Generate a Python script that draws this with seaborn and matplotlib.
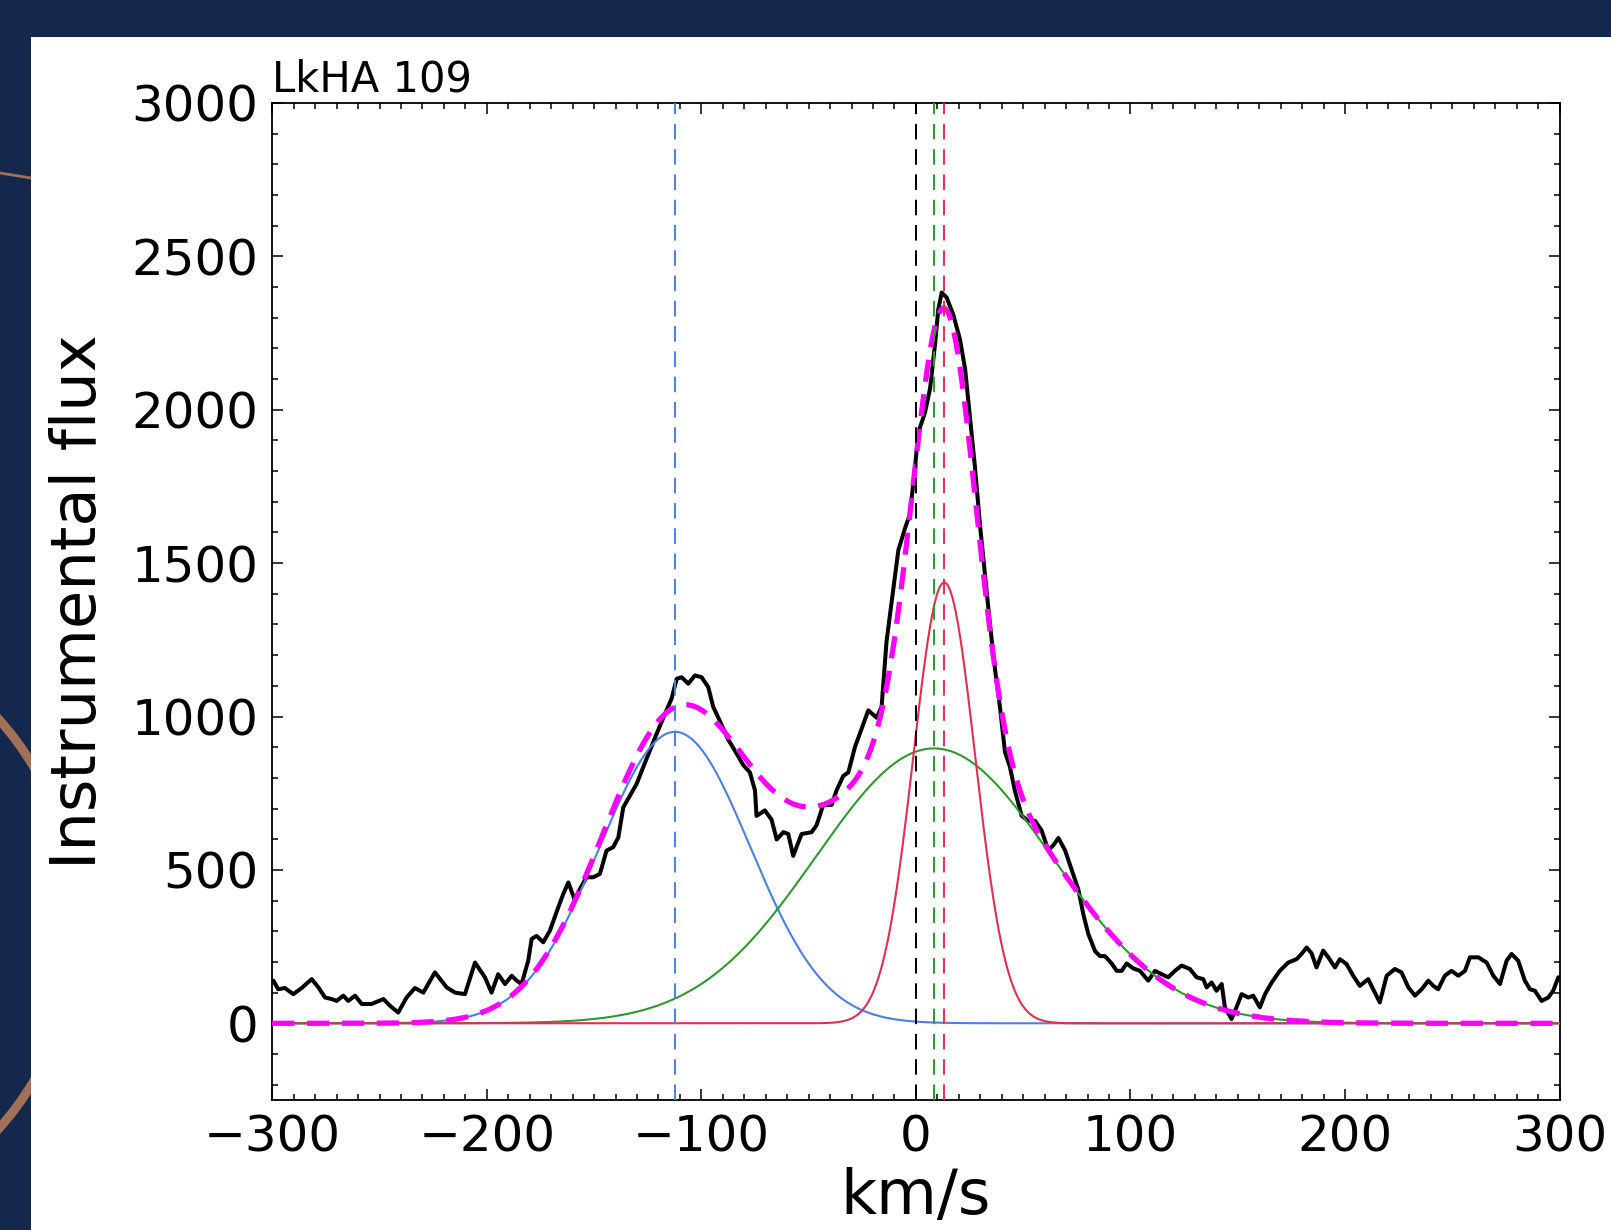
import numpy as np
import pandas as pd
import seaborn as sns
import matplotlib.pyplot as plt
from matplotlib.patches import Rectangle, Arc
from matplotlib.lines import Line2D
from matplotlib.ticker import MultipleLocator

velocity = [-299.5, -297.2, -294.1, -290.2, -286.3, -281.6, -278.5, -275.4, -272.3, -270.0,
            -266.9, -264.6, -261.4, -258.3, -253.7, -248.2, -245.1, -241.3, -237.4, -233.5,
            -229.6, -224.2, -218.7, -214.8, -210.2, -205.5,
            -200.9, -197.8, -194.7, -191.5, -188.4, -186.1, -183.8, -180.7, -179.1, -176.8,
            -173.7, -170.6, -166.7, -164.4, -162.0, -158.9, -156.6, -153.5, -150.4, -147.3,
            -144.2, -141.1, -138.7, -136.4, -133.3, -130.2, -127.1, -124.0, -120.9, -117.0,
            -113.9, -111.5, -109.2, -106.1, -103.0, -99.9, -96.8,
            -94.5, -91.3, -87.5, -84.4, -80.5, -77.4, -75.0, -74.3, -70.4, -67.3,
            -64.9, -61.8, -59.5, -57.2, -53.3, -48.6, -46.3, -43.2, -39.3, -37.0,
            -33.9, -31.5, -28.4, -25.3, -22.2, -18.3, -16.0, -13.7, -10.6, -8.2,
            -5.1, -2.8,
            -0.4, 1.1, 4.2, 6.6, 8.9, 10.4, 12.0, 14.3, 17.4, 20.5,
            22.9, 25.2, 27.5, 29.9, 32.2, 34.5, 36.8, 39.2, 41.5, 43.8,
            46.2, 49.3, 52.4, 55.5, 58.6, 61.7, 64.0, 66.4, 69.5, 72.6,
            75.7, 78.0, 80.3, 83.5, 85.8, 88.1, 91.2, 93.6, 95.9, 98.2, 101.3,
            104.4, 108.3, 111.4, 114.5, 117.6, 120.7, 123.8, 127.7, 130.8, 133.9,
            135.5, 137.8, 140.1, 142.5, 144.0, 147.1, 149.4, 151.8, 154.9, 157.2,
            160.3, 162.7, 165.8, 169.6, 173.5, 177.4, 179.7, 182.1, 184.4, 186.7,
            189.8, 192.2, 195.3,
            197.6, 200.7, 203.8, 206.9, 210.8, 213.1, 216.2, 219.4, 223.2, 226.3,
            229.5, 232.6, 235.7, 238.8, 241.1, 243.4, 246.5, 249.6, 252.8, 255.9,
            258.2, 262.1, 266.0, 269.1, 272.2, 275.3, 277.6, 280.7, 283.8, 286.2,
            288.5, 291.6, 294.7, 297.0, 299.4]
flux = [139, 111, 115, 95, 115, 144, 117, 84, 79, 73,
        90, 73, 90, 63, 63, 79, 57, 35, 84, 115,
        100, 166, 117, 100, 95, 198,
        150, 100, 160, 128, 155, 139, 128, 204, 275, 285,
        264, 302, 378, 421, 459, 400, 438, 476, 476, 487,
        563, 574, 606, 704, 742, 780, 835, 889, 943, 1008,
        1058, 1123, 1128, 1107, 1134, 1128, 1096,
        1032, 984, 925, 889, 842, 818, 759, 676, 694, 664,
        599, 623, 617, 546, 617, 623, 646, 712, 712, 759,
        806, 818, 901, 961, 1020, 996, 1032, 1245, 1411, 1542,
        1613, 1660,
        1814, 1926, 1990, 2070, 2213, 2326, 2382, 2366, 2310, 2230,
        2134, 1974, 1814, 1621, 1461, 1301, 1157, 1029, 884, 836,
        756, 676, 660, 660, 628, 564, 580, 604, 564, 500,
        436, 356, 292, 235, 219, 219, 195, 171, 171, 195, 179,
        171, 139, 171, 160, 150, 171, 188, 177, 150, 144,
        117, 133, 106, 128, 52, 14, 52, 95, 84, 90,
        52, 95, 133, 171, 198, 209, 226, 247, 228, 182,
        237, 215, 182,
        209, 193, 155, 122, 144, 111, 68, 155, 177, 166,
        117, 90, 111, 139, 122, 111, 155, 171, 155, 171,
        215, 215, 198, 155, 128, 204, 226, 204, 139, 111,
        106, 73, 84, 106, 150]

# gaussian fit components: centre (km/s), amplitude, sigma
comp_names = ['blue', 'green', 'red']
comp_centers = [-112.3, 8.4, 13.2]
comp_amps = [950, 896, 1437]
comp_sigmas = [35, 55, 14.4]
comp_colors = ['#4a7fe3', '#2f982f', '#e0304f']

navy = '#13284c'
brown = '#a26f58'

sns.set_style('ticks')
plt.rcParams['font.family'] = ['DejaVu Sans']

fig = plt.figure(figsize=(16.11, 12.3), dpi=100, facecolor=navy)

# decorative background (behind the axes)
fig.patches.append(Arc((-230 / 1611, 1 - 924 / 1230), 614 / 1611, 614 / 1230,
                       transform=fig.transFigure, color=brown, lw=6.5, zorder=-3))
fig.lines.append(Line2D([0, 31 / 1611], [1 - 173 / 1230, 1 - 178 / 1230],
                        transform=fig.transFigure, color=brown, lw=2, zorder=-3))
fig.patches.append(Rectangle((31 / 1611, 0), 1, 1 - 37 / 1230, transform=fig.transFigure,
                             facecolor='white', edgecolor='none', zorder=-2))

ax = fig.add_axes([0.1690, 0.1057, 0.7991, 0.8106])
ax.set_facecolor('white')

spec = pd.DataFrame({'v': velocity, 'flux': flux})
sns.lineplot(data=spec, x='v', y='flux', color='black', lw=2.9, ax=ax, zorder=3)

vgrid = np.linspace(-300, 300, 1201)
total = np.zeros_like(vgrid)
for c, a, s, col in zip(comp_centers, comp_amps, comp_sigmas, comp_colors):
    g = a * np.exp(-(vgrid - c) ** 2 / (2 * s ** 2))
    total += g
    sns.lineplot(x=vgrid, y=g, color=col, lw=1.5, ax=ax, zorder=4)
sns.lineplot(x=vgrid, y=total, color='#ff00ff', lw=3.8, ax=ax, zorder=5)
ax.lines[-1].set_dashes((4.2, 2.4))

ax.axvline(0, color='black', lw=1.4, dashes=(8, 5), zorder=6)
for c, col in zip(comp_centers, comp_colors):
    ax.axvline(c, color=col, lw=1.4, dashes=(8, 5), zorder=6)

ax.set_xlim(-300, 300)
ax.set_ylim(-250, 3000)
ax.xaxis.set_major_locator(MultipleLocator(100))
ax.xaxis.set_minor_locator(MultipleLocator(10))
ax.yaxis.set_major_locator(MultipleLocator(500))
ax.yaxis.set_minor_locator(MultipleLocator(100))
ax.tick_params(which='both', direction='in', top=True, right=True, width=1.1,
               color='black', labelsize=36, labelcolor='black', pad=10)
ax.tick_params(which='major', length=8)
ax.tick_params(which='minor', length=4)
for sp in ax.spines.values():
    sp.set_color('black')
    sp.set_linewidth(1.3)

ax.set_xlabel('km/s', fontsize=45, color='black')
ax.set_ylabel('Instrumental flux', fontsize=45, color='black')
ax.xaxis.set_label_coords(0.5, -0.067)
ax.yaxis.set_label_coords(-0.127, 0.5)
ax.set_title('LkHA 109', loc='left', fontsize=30, color='black', pad=8)

fig.savefig('out.png', dpi=100, facecolor=navy)
